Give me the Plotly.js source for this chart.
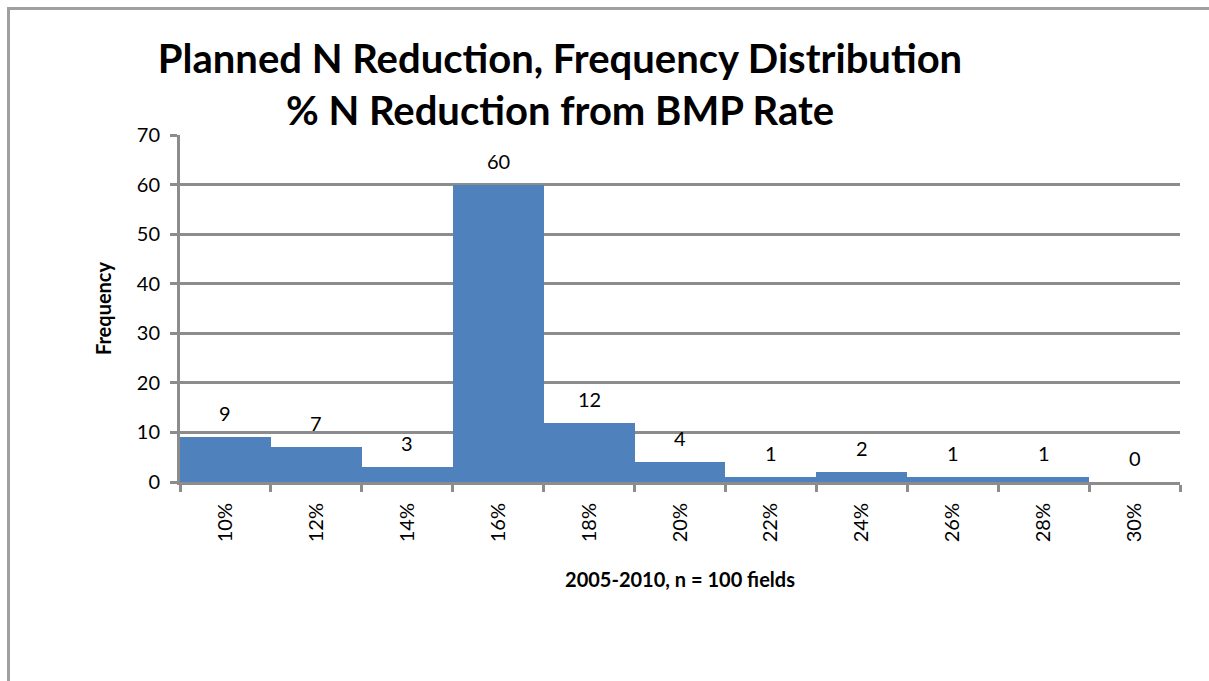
<!DOCTYPE html>
<html>
<head>
<meta charset="utf-8">
<script src="https://cdn.plot.ly/plotly-3.0.1.min.js"></script>
<style>
html,body{margin:0;padding:0;background:#fff;}
#chart{position:absolute;left:0;top:0;width:1209px;height:681px;}
#frame{position:absolute;left:7px;top:7px;width:1300px;height:800px;border-top:3px solid #a0a0a0;border-left:3px solid #a0a0a0;pointer-events:none;}
</style>
</head>
<body>
<div id="chart"></div>
<div id="frame"></div>
<script>
const categories = ["10%","12%","14%","16%","18%","20%","22%","24%","26%","28%","30%"];
const frequency = [9,7,3,60,12,4,1,2,1,1,0];
const yTicks = [0,10,20,30,40,50,60,70];

const FONT = "Lato, 'Open Sans', 'Liberation Sans', sans-serif";

const trace = {
  type: "bar",
  x: categories,
  y: frequency,
  marker: {color: "#4F81BD", line: {width: 0}},
  hoverinfo: "x+y"
};

const labels = categories.map((c, i) => ({
  x: c, y: frequency[i], xref: "x", yref: "y",
  text: String(frequency[i]),
  showarrow: false,
  yanchor: "bottom",
  yshift: 10,
  font: {family: FONT, size: 20, color: "#000"}
}));

const layout = {
  width: 1209,
  height: 681,
  margin: {l: 180, r: 29, t: 135, b: 199},
  paper_bgcolor: "#fff",
  plot_bgcolor: "#fff",
  showlegend: false,
  bargap: 0,
  font: {family: FONT, size: 20, color: "#000"},
  title: {
    text: "<b>Planned N Reduction, Frequency Distribution<br>% N Reduction from BMP Rate</b>",
    x: 560/1209, xanchor: "center", xref: "container",
    y: 1 - 73/681, yanchor: "middle", yref: "container",
    font: {family: FONT, size: 40, color: "#000"}
  },
  annotations: labels,
  xaxis: {
    type: "category",
    tickson: "boundaries",
    tickangle: -90,
    ticks: "outside",
    ticklen: 7,
    tickwidth: 3,
    tickcolor: "#8c8c8c",
    ticklabelstandoff: 10,
    showline: true,
    linecolor: "#8c8c8c",
    linewidth: 3,
    showgrid: false,
    zeroline: false,
    tickfont: {family: FONT, size: 20, color: "#000"},
    title: {text: "<b>2005-2010, n = 100 fields</b>", font: {family: FONT, size: 20, color: "#000"}, standoff: 32}
  },
  yaxis: {
    range: [0, 70],
    tickvals: yTicks,
    ticks: "outside",
    ticklen: 7,
    tickwidth: 3,
    tickcolor: "#8c8c8c",
    ticklabelstandoff: 6,
    showline: true,
    linecolor: "#8c8c8c",
    linewidth: 3,
    showgrid: true,
    gridcolor: "#8c8c8c",
    gridwidth: 3,
    zeroline: false,
    tickfont: {family: FONT, size: 20, color: "#000"},
    title: {text: "<b>Frequency</b>", font: {family: FONT, size: 20, color: "#000"}, standoff: 20}
  }
};

Plotly.newPlot("chart", [trace], layout, {displayModeBar: false, staticPlot: true});
</script>
</body>
</html>
